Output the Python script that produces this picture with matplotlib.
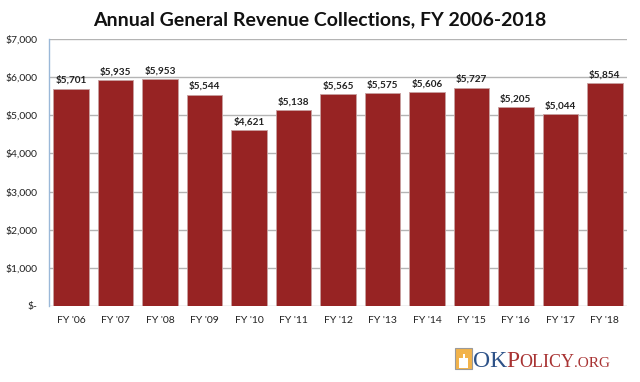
import matplotlib
matplotlib.use("Agg")
import matplotlib.pyplot as plt
from matplotlib.patches import Rectangle, Wedge

categories = ["FY '06", "FY '07", "FY '08", "FY '09", "FY '10", "FY '11", "FY '12",
              "FY '13", "FY '14", "FY '15", "FY '16", "FY '17", "FY '18"]
values = [5701, 5935, 5953, 5544, 4621, 5138, 5565, 5575, 5606, 5727, 5205, 5044, 5854]
yticks = [0, 1000, 2000, 3000, 4000, 5000, 6000, 7000]
ytick_labels = ["$-", "$1,000", "$2,000", "$3,000", "$4,000", "$5,000", "$6,000", "$7,000"]

W, H = 640, 382
fig = plt.figure(figsize=(W/100, H/100), dpi=100)
ax = fig.add_axes([49/W, 1-306/H, (627-49)/W, (306-39)/H])

x = range(len(categories))
ax.bar(x, values, width=0.8, color="#972323", edgecolor="#c8a0a0", linewidth=0.6, zorder=3)
for i, v in enumerate(values):
    ax.text(i, v + 90, f"${v:,}", ha="center", va="bottom", fontsize=7.2,
            fontweight="bold", family="Lato", color="#222222")

ax.set_xlim(-0.5, len(categories) - 0.5)
ax.set_ylim(0, 7000)
ax.set_yticks(yticks)
ax.set_yticklabels(ytick_labels, family="Lato", fontsize=7.5, color="#222222")
ax.set_xticks(list(x))
ax.set_xticklabels(categories, family="Lato", fontsize=7.5, color="#222222")
ax.tick_params(axis="both", length=0, pad=8)
ax.tick_params(axis="x", pad=7)
ax.grid(axis="y", color="#b4b4b4", linewidth=1, zorder=0)
for s in ["top", "right", "bottom"]:
    ax.spines[s].set_visible(False)
ax.spines["left"].set_color("#9ab8d8")
ax.spines["left"].set_linewidth(1)

fig.text(0.5, 1-20/H, "Annual General Revenue Collections, FY 2006-2018", ha="center",
         va="center", fontsize=14, fontweight="bold", family="Lato", color="#111111")

# logo
fig.patches.append(Rectangle((455/W, 1-369/H), 17/W, 21/H, transform=fig.transFigure,
                             facecolor="#f2b34a", edgecolor="#9a9a9a", linewidth=0.8))
fig.patches.append(Rectangle((459/W, 1-368/H), 9/W, 10/H, transform=fig.transFigure,
                             facecolor="white", edgecolor="none"))
fig.patches.append(Rectangle((462.5/W, 1-358/H), 2/W, 4/H, transform=fig.transFigure,
                             facecolor="white", edgecolor="none"))

renderer = fig.canvas.get_renderer()
xpos = 473
base_y = 1 - 367/H
parts = [("OKP", 17, "#2d5288"), ("OLICY", 13, "#a83232"), (".ORG", 11, "#a83232")]
colors_first = ["#2d5288", "#2d5288", "#a83232"]
pieces = [("OK", 17, "#2d5288"), ("P", 17, "#a83232"), ("OLICY", 13, "#a83232"), (".ORG", 11, "#a83232")]
for txt, size, col in pieces:
    t = fig.text(xpos/W, base_y, txt, fontsize=size, family="Liberation Serif", color=col,
                 va="baseline", ha="left")
    bb = t.get_window_extent(renderer)
    xpos += bb.width * (W / fig.bbox.width) - 0.5

fig.savefig("out.png", dpi=100, facecolor="white")
